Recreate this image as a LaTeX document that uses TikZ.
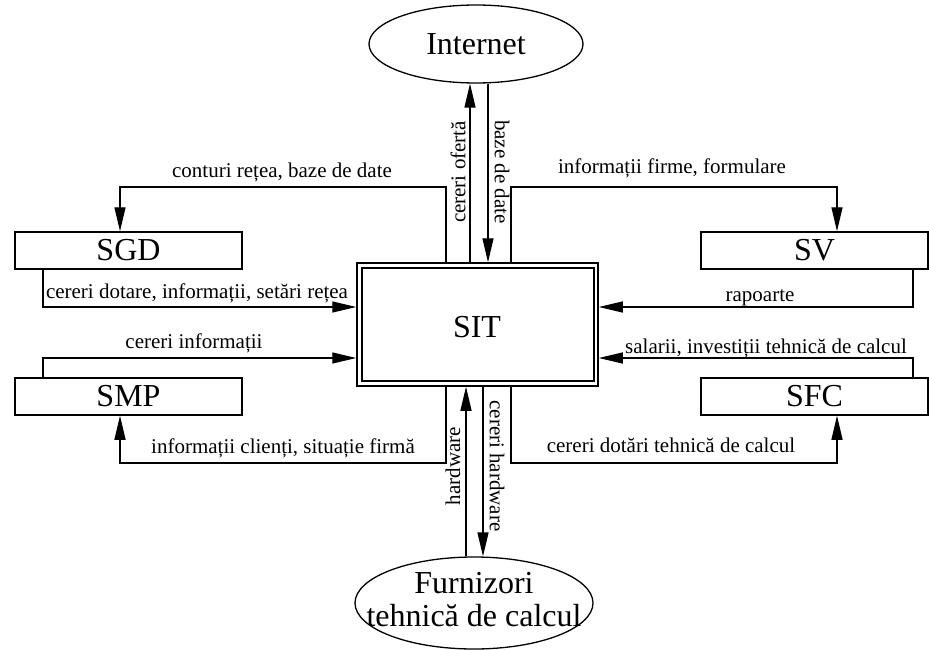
\documentclass[tikz,border=0pt]{standalone}
\usepackage{fontspec}
\setmainfont{Liberation Serif}
\usetikzlibrary{arrows.meta,shapes.geometric}
\begin{document}
\begin{tikzpicture}[x=1pt,y=-1pt,
  big/.style={font=\fontsize{32}{33}\selectfont},
  lbl/.style={font=\fontsize{21}{24}\selectfont, inner sep=0pt},
  sysbox/.style={draw, line width=1.5pt, minimum width=227pt, minimum height=37pt, inner sep=0pt, big},
  extern/.style={draw, ellipse, line width=1.3pt, inner sep=0pt},
  flow/.style={line width=1.3pt, -{Triangle[length=24pt,width=11pt]}},
]
\useasboundingbox (0,0) rectangle (929,650);

% central system
\node[draw, line width=1.5pt, minimum width=241pt, minimum height=123pt, inner sep=0pt] (sit) at (477.5,324.5) {};
\draw[line width=2.2pt] ([shift={(6,6)}]sit.north west) rectangle ([shift={(-5,-6)}]sit.south east);
\node[big] (sittext) at (477,327) {SIT};

% subsystems
\node[sysbox] (sgd) at (128.5,250.5) {SGD};
\node[sysbox] (smp) at (128.5,396.5) {SMP};
\node[sysbox] (sv)  at (814.5,250.5) {SV};
\node[sysbox] (sfc) at (814.5,396.5) {SFC};

% external entities
\node[extern, big, minimum width=214pt, minimum height=78pt] (inet) at (476,44) {Internet};
\node[extern, minimum width=238pt, minimum height=92pt] (furn) at (474,603) {};
\node[big, align=center, inner sep=0pt] (furntext) at (474,600) {Furnizori\\tehnică de calcul};

% bend points
\coordinate (k1) at (446,187);
\coordinate (k2) at (120,187);
\coordinate (k3) at (43,307);
\coordinate (k4) at (43,358);
\coordinate (k5) at (446,463);
\coordinate (k6) at (120,463);
\coordinate (k7) at (511,187);
\coordinate (k8) at (837,187);
\coordinate (k9) at (913,307);
\coordinate (k10) at (913,358);
\coordinate (k11) at (511,463);
\coordinate (k12) at (837,463);
\coordinate (c1) at (470,0);
\coordinate (c2) at (488,0);
\coordinate (c3) at (466,0);
\coordinate (c4) at (483,0);

% flows
\draw[flow] (sit.north -| k1) -- (k1) -- (k2) -- (sgd.north -| k2);
\draw[flow] (sgd.south -| k3) -- (k3) -- (sit.west |- k3);
\draw[flow] (smp.north -| k4) -- (k4) -- (sit.west |- k4);
\draw[flow] (sit.south -| k5) -- (k5) -- (k6) -- (smp.south -| k6);
\draw[flow] (sit.north -| k7) -- (k7) -- (k8) -- (sv.north -| k8);
\draw[flow] (sv.south -| k9) -- (k9) -- (sit.east |- k9);
\draw[flow] (sfc.north -| k10) -- (k10) -- (sit.east |- k10);
\draw[flow] (sit.south -| k11) -- (k11) -- (k12) -- (sfc.south -| k12);
\draw[flow] (sit.north -| c1) -- (inet.south -| c1);
\draw[flow] (inet.south -| c2) -- (sit.north -| c2);
\draw[flow] (furn.north -| c3) -- (sit.south -| c3);
\draw[flow] (sit.south -| c4) -- (furn.north -| c4);

% labels
\node[lbl, anchor=base] (l1) at (282,177) {conturi rețea, baze de date};
\node[lbl, anchor=base] (l2) at (672,173) {informații firme, formulare};
\node[lbl, anchor=base] (l3) at (197,298) {cereri dotare, informații, setări rețea};
\node[lbl, anchor=base] (l4) at (760,301) {rapoarte};
\node[lbl, anchor=base] (l5) at (194,348) {cereri informații};
\node[lbl, anchor=base] (l6) at (766,353) {salarii, investiții tehnică de calcul};
\node[lbl, anchor=base] (l7) at (283,453) {informații clienți, situație firmă};
\node[lbl, anchor=base] (l8) at (671,452) {cereri dotări tehnică de calcul};
\node[lbl, rotate=90]  (l9)  at (458,172) {cereri ofertă};
\node[lbl, rotate=-90] (l10) at (502,172) {baze de date};
\node[lbl, rotate=90]  (l11) at (453,466) {hardware};
\node[lbl, rotate=-90] (l12) at (497,466) {cereri hardware};
\end{tikzpicture}
\end{document}
